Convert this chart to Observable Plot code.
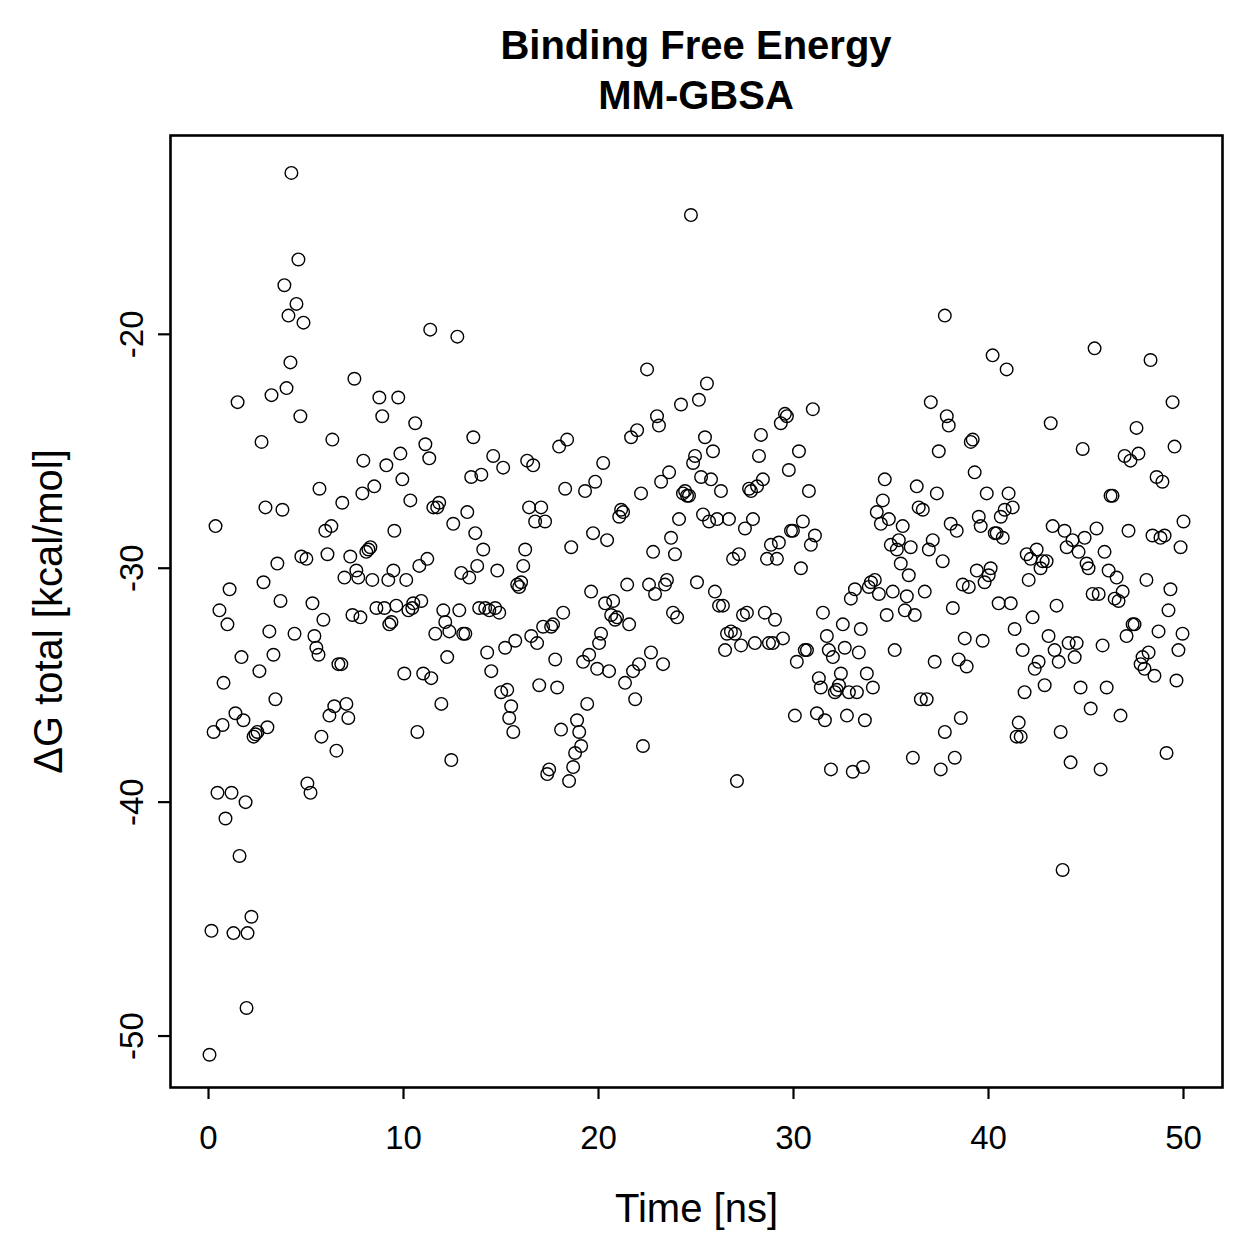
<!DOCTYPE html>
<html>
<head>
<meta charset="utf-8">
<script src="https://cdn.jsdelivr.net/npm/d3@7"></script>
<script src="https://cdn.jsdelivr.net/npm/@observablehq/plot@0.6"></script>
<style>
  html, body { margin: 0; padding: 0; background: #fff; }
  #title { width: 1052px; margin-left: 170px; height: 120px; box-sizing: border-box;
    font-family: "Liberation Sans", Arial, Helvetica, sans-serif; font-weight: bold; font-size: 40px;
    text-align: center; line-height: 50px; padding-top: 20px; color: #000; }
  #chart svg { display: block; }
</style>
</head>
<body>
<div id="title"></div>
<div id="chart"></div>
<script>
const titleLines = ["Binding Free Energy", "MM-GBSA"];
const xLabel = "Time [ns]";
const yLabel = "ΔG total [kcal/mol]";
const xTicks = [0, 10, 20, 30, 40, 50];
const yTicks = [-50, -40, -30, -20];

const time = [
0.05,0.15,0.26,0.36,0.46,0.56,0.72,0.77,0.87,0.97,1.08,1.18,1.28,1.38,1.49,1.59,1.69,1.79,1.90,2.00,1.95,2.20,2.31,2.41,2.51,2.61,2.72,2.82,2.92,3.02,3.12,3.23,3.33,3.43,3.53,3.69,3.79,3.89,4.00,4.10,4.20,4.25,4.41,4.51,4.61,4.71,4.76,4.87,5.02,5.07,5.23,
5.33,5.43,5.53,5.64,5.69,5.79,5.89,5.99,6.10,6.20,6.30,6.35,6.45,6.56,6.66,6.81,6.86,6.97,7.07,7.17,7.27,7.38,7.48,7.58,7.68,7.79,7.89,7.94,8.09,8.20,8.30,8.40,8.50,8.61,8.76,8.91,9.02,9.12,9.22,9.27,9.38,9.48,9.53,9.63,9.73,9.84,9.94,10.04,10.14,10.25,10.35,10.45,10.50,10.60,10.71,10.81,10.91,
11.01,11.12,11.22,11.32,11.37,11.42,11.53,11.63,11.73,11.83,11.94,12.04,12.14,12.24,12.35,12.45,12.55,12.76,12.86,12.96,13.06,13.17,13.27,13.37,13.47,13.58,13.68,13.78,13.88,13.99,14.09,14.19,14.29,14.40,14.50,14.60,14.70,14.81,14.91,15.01,15.11,15.21,15.32,15.42,15.52,15.63,15.73,15.83,15.93,16.03,16.14,16.24,16.34,16.44,16.55,
16.65,16.75,16.85,16.96,17.06,17.16,17.26,17.37,17.47,17.57,17.67,17.78,17.88,17.98,18.08,18.19,18.29,18.39,18.49,18.60,18.70,18.80,18.90,19.01,19.11,19.21,19.31,19.42,19.52,19.62,19.72,19.83,19.93,20.03,20.13,20.24,20.34,20.44,20.54,20.65,20.75,20.85,20.95,21.06,21.16,21.26,21.36,21.47,21.57,21.67,21.77,21.88,21.98,22.08,22.18,
22.28,22.49,22.59,22.69,22.80,22.90,23.00,23.10,23.21,23.31,23.41,23.51,23.62,23.72,23.82,23.92,24.03,24.13,24.23,24.33,24.44,24.54,24.64,24.74,24.85,24.95,25.05,25.15,25.26,25.36,25.46,25.56,25.67,25.77,25.87,25.97,26.08,26.18,26.28,26.38,26.49,26.59,26.69,26.79,26.90,27.00,27.10,27.20,27.31,27.41,27.51,27.61,27.72,27.82,
27.92,28.02,28.13,28.23,28.33,28.43,28.53,28.64,28.74,28.84,28.94,29.05,29.15,29.25,29.35,29.46,29.56,29.66,29.76,29.87,29.97,30.07,30.17,30.28,30.38,30.48,30.58,30.69,30.79,30.89,30.99,31.10,31.20,31.30,31.40,31.51,31.61,31.71,31.81,31.92,32.02,32.12,32.22,32.33,32.43,32.53,32.63,32.74,32.84,32.94,33.04,33.15,33.25,33.35,33.45,
33.56,33.66,33.76,33.86,33.97,34.07,34.17,34.27,34.38,34.48,34.58,34.68,34.78,34.89,34.99,35.09,35.19,35.30,35.40,35.50,35.60,35.71,35.81,35.91,36.01,36.12,36.22,36.32,36.42,36.53,36.63,36.73,36.83,36.94,37.04,37.14,37.24,37.35,37.45,37.55,37.65,37.76,37.76,37.86,37.96,38.06,38.17,38.27,38.37,38.47,38.58,38.68,38.78,38.88,38.99,39.09,
39.19,39.29,39.40,39.50,39.60,39.70,39.80,39.91,40.01,40.11,40.21,40.32,40.42,40.52,40.63,40.73,40.83,40.93,41.03,41.14,41.24,41.34,41.44,41.55,41.65,41.75,41.85,41.96,42.06,42.16,42.26,42.37,42.47,42.57,42.67,42.78,42.88,42.98,43.08,43.19,43.29,43.39,43.49,43.60,43.70,43.80,43.90,44.01,44.11,44.21,44.31,44.42,44.52,44.62,44.72,
44.83,44.93,45.03,45.13,45.24,45.34,45.44,45.54,45.65,45.75,45.85,45.95,46.06,46.16,46.26,46.36,46.47,46.57,46.67,46.77,46.88,46.98,47.08,47.18,47.28,47.39,47.49,47.59,47.69,47.80,47.90,48.00,48.10,48.21,48.31,48.41,48.51,48.62,48.72,48.82,48.92,49.03,49.13,49.23,49.33,49.44,49.54,49.64,49.74,49.85,49.95,50.00
];

const dG = [
-50.8,-45.5,-37.0,-28.2,-39.6,-31.8,-36.7,-34.9,-40.7,-32.4,-30.9,-39.6,-45.6,-36.2,-22.9,-42.3,-33.8,-36.5,-40.0,-45.6,-48.8,-44.9,-37.2,-37.1,-37.0,-34.4,-24.6,-30.6,-27.4,-36.8,-32.7,-22.6,-33.7,-35.6,-29.8,-31.4,-27.5,-17.9,-22.3,-19.2,-21.2,-13.1,-32.8,-18.7,-16.8,-23.5,-29.5,-19.5,-29.6,-39.2,-39.6,
-31.5,-32.9,-33.4,-33.7,-26.6,-37.2,-32.2,-28.4,-29.4,-36.3,-28.2,-24.5,-35.9,-37.8,-34.1,-34.1,-27.2,-30.4,-35.8,-36.4,-29.5,-32.0,-21.9,-30.1,-30.4,-32.1,-26.8,-25.4,-29.3,-29.2,-29.1,-30.5,-26.5,-31.7,-22.7,-23.5,-31.7,-25.6,-30.5,-32.4,-32.3,-30.1,-28.4,-31.6,-22.7,-25.1,-26.2,-34.5,-30.5,-31.8,-27.1,-31.7,-31.5,-23.8,-37.0,-29.9,-31.4,
-34.5,-24.7,-29.6,-25.3,-19.8,-34.7,-27.4,-32.8,-27.4,-27.2,-35.8,-31.8,-32.3,-33.8,-32.7,-38.2,-28.1,-20.1,-31.8,-30.2,-32.8,-32.8,-27.6,-30.4,-26.1,-24.4,-28.5,-29.9,-31.7,-26.0,-29.2,-31.7,-33.6,-31.8,-34.4,-25.2,-31.7,-30.1,-31.9,-35.3,-25.7,-33.4,-35.2,-36.4,-35.9,-37.0,-33.1,-30.7,-30.8,-30.6,-29.9,-29.2,-25.4,-27.4,-32.9,
-25.6,-28.0,-33.2,-35.0,-27.4,-32.5,-28.0,-38.8,-38.6,-32.5,-32.4,-33.9,-35.1,-24.8,-36.9,-31.9,-26.6,-24.5,-39.1,-29.1,-38.5,-37.9,-36.5,-37.0,-37.6,-34.0,-26.7,-35.8,-33.7,-31.0,-28.5,-26.3,-34.3,-33.2,-32.8,-25.5,-31.5,-28.8,-34.4,-32.0,-31.4,-32.2,-32.1,-27.8,-27.5,-27.6,-34.9,-30.7,-32.4,-24.4,-34.4,-35.6,-24.1,-34.1,-26.8,
-37.6,-21.5,-30.7,-33.6,-29.3,-31.1,-23.5,-23.9,-26.3,-34.1,-30.7,-30.5,-25.9,-28.7,-31.9,-29.4,-32.1,-27.9,-23.0,-26.8,-26.7,-26.9,-26.9,-14.9,-25.5,-25.2,-30.6,-22.8,-26.1,-27.7,-24.4,-22.1,-28.0,-26.2,-25.0,-31.0,-27.9,-31.6,-26.7,-31.6,-33.5,-32.8,-27.9,-32.7,-29.6,-32.8,-39.1,-29.4,-33.3,-32.0,-28.3,-31.9,-26.6,-26.7,
-27.9,-33.2,-26.5,-25.2,-24.3,-26.2,-31.9,-29.6,-33.2,-29.0,-33.2,-32.2,-29.6,-28.9,-23.8,-33.0,-23.4,-23.5,-25.8,-28.4,-28.4,-36.3,-34.0,-25.0,-30.0,-28.0,-33.5,-33.5,-26.7,-29.0,-23.2,-28.6,-36.2,-34.7,-35.1,-31.9,-36.5,-32.9,-33.5,-38.6,-33.8,-35.3,-35.2,-35.0,-34.5,-32.4,-33.4,-36.3,-35.3,-31.3,-38.7,-30.9,-35.3,-33.6,-32.6,
-38.5,-36.5,-34.5,-30.8,-30.6,-35.1,-30.5,-27.6,-31.1,-28.1,-27.1,-26.2,-32.0,-27.9,-29.0,-31.0,-33.5,-29.2,-28.8,-29.8,-28.2,-31.8,-31.2,-30.3,-29.1,-38.1,-32.0,-26.5,-27.4,-35.6,-27.5,-31.0,-35.6,-29.2,-22.9,-28.8,-34.0,-26.8,-25.0,-38.6,-29.7,-37.0,-19.2,-23.5,-23.9,-28.1,-31.7,-38.1,-28.4,-33.9,-36.4,-30.7,-33.0,-34.2,-30.8,-24.6,
-24.5,-25.9,-30.1,-27.8,-28.2,-33.1,-30.6,-26.8,-30.3,-30.0,-20.9,-28.5,-28.5,-31.5,-27.8,-28.7,-27.5,-21.5,-26.8,-31.5,-27.4,-32.6,-37.2,-36.6,-37.2,-33.5,-35.3,-29.4,-30.5,-29.6,-32.1,-34.3,-29.2,-34.0,-30.0,-29.7,-35.0,-29.7,-32.9,-23.8,-28.2,-33.5,-31.6,-34.0,-37.0,-42.9,-28.4,-29.1,-33.2,-38.3,-28.8,-33.8,-33.2,-29.3,-35.1,
-24.9,-28.7,-29.8,-30.0,-36.0,-31.1,-20.6,-28.3,-31.1,-38.6,-33.3,-29.3,-35.1,-30.1,-26.9,-26.9,-31.3,-30.4,-31.4,-36.3,-31.0,-25.2,-32.9,-28.4,-25.4,-32.4,-32.4,-24.0,-25.1,-34.1,-33.8,-34.3,-30.5,-33.6,-21.1,-28.6,-34.6,-26.1,-32.7,-28.7,-26.3,-28.6,-37.9,-31.8,-30.9,-22.9,-24.8,-34.8,-33.5,-29.1,-32.8,-28.0
];

document.getElementById("title").innerHTML = titleLines.join("<br>");

const n = Math.min(time.length, dG.length);
const data = d3.range(n).map(i => ({t: time[i], g: dG[i]}));

const font = '"Liberation Sans", Arial, Helvetica, sans-serif';
const chart = Plot.plot({
  width: 1259,
  height: 1139,
  marginTop: 15,
  marginLeft: 170,
  marginRight: 37,
  marginBottom: 172,
  style: { fontFamily: font, fontSize: "40px", color: "#000", background: "#fff", overflow: "visible" },
  x: { domain: [-1.95, 52.0] },
  y: { domain: [-52.2, -11.5] },
  marks: [
    Plot.frame({ stroke: "#000", strokeWidth: 2.6 }),
    Plot.axisX({ ticks: xTicks, tickSize: 12, tickPadding: 26, strokeWidth: 2.2,
      tickFormat: d => String(d), fontSize: 33, label: null }),
    Plot.axisX({ ticks: [], label: xLabel, labelAnchor: "center", labelArrow: "none", labelOffset: 134,
      fontSize: 40 }),
    Plot.axisY({ ticks: yTicks, tickSize: 12, tickPadding: 16, strokeWidth: 2.2, tickRotate: -90,
      tickFormat: d => String(d), fontSize: 33, label: null }),
    Plot.axisY({ ticks: [], label: yLabel, labelAnchor: "center", labelArrow: "none", labelOffset: 137,
      fontSize: 40 }),
    Plot.dot(data, { x: "t", y: "g", r: 6.3, stroke: "#000", strokeWidth: 1.4, fill: "none" })
  ]
});
document.getElementById("chart").appendChild(chart);
</script>
</body>
</html>
